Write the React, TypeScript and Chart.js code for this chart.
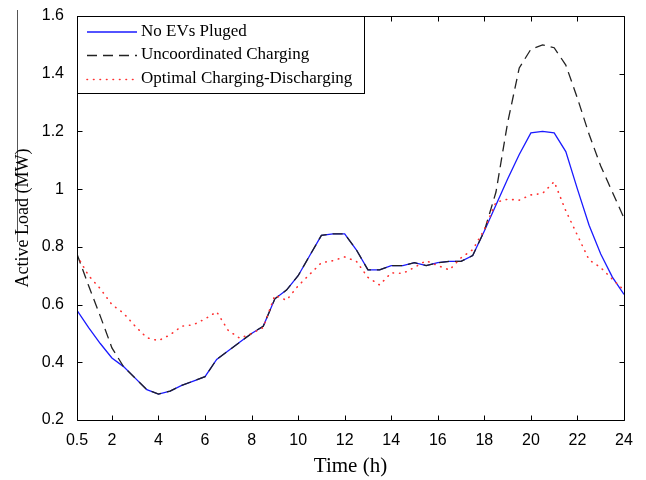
import React, { useEffect, useRef } from 'react';
import { Chart, registerables } from 'chart.js';

Chart.register(...registerables);

const hours = [
  0.5, 1, 1.5, 2, 2.5, 3, 3.5, 4, 4.5, 5, 5.5, 6, 6.5, 7, 7.5, 8, 8.5, 9, 9.5, 10, 10.5, 11, 11.5, 12,
  12.5, 13, 13.5, 14, 14.5, 15, 15.5, 16, 16.5, 17, 17.5, 18, 18.5, 19, 19.5, 20, 20.5, 21, 21.5, 22,
  22.5, 23, 23.5, 24,
];

const noEVs = [
  0.58, 0.52, 0.465, 0.415, 0.385, 0.345, 0.305, 0.29, 0.3, 0.32, 0.335, 0.35, 0.41, 0.44, 0.47, 0.5,
  0.525, 0.62, 0.65, 0.7, 0.77, 0.84, 0.845, 0.845, 0.79, 0.72, 0.72, 0.735, 0.735, 0.745, 0.735, 0.745,
  0.75, 0.75, 0.77, 0.855, 0.945, 1.035, 1.12, 1.195, 1.2, 1.195, 1.13, 1.0, 0.875, 0.775, 0.695, 0.635,
];

const uncoordinated = [
  0.775, 0.665, 0.56, 0.45, 0.385, 0.345, 0.305, 0.29, 0.3, 0.32, 0.335, 0.35, 0.41, 0.44, 0.47, 0.5,
  0.525, 0.62, 0.65, 0.7, 0.77, 0.84, 0.845, 0.845, 0.79, 0.72, 0.72, 0.735, 0.735, 0.745, 0.735, 0.745,
  0.75, 0.75, 0.77, 0.855, 0.99, 1.23, 1.42, 1.485, 1.5, 1.49, 1.43, 1.315, 1.19, 1.08, 0.99, 0.9,
];

const optimal = [
  0.77, 0.7, 0.655, 0.6, 0.57, 0.525, 0.485, 0.475, 0.495, 0.525, 0.53, 0.55, 0.575, 0.51, 0.483, 0.5,
  0.52, 0.632, 0.615, 0.665, 0.705, 0.745, 0.752, 0.765, 0.75, 0.694, 0.668, 0.71, 0.708, 0.729, 0.752,
  0.735, 0.72, 0.762, 0.79, 0.86, 0.955, 0.965, 0.962, 0.98, 0.985, 1.026, 0.925, 0.84, 0.755, 0.728,
  0.688, 0.65,
];

const seriesNames = ['No EVs Pluged', 'Uncoordinated Charging', 'Optimal Charging-Discharging'];
const xTickValues = [0.5, 2, 4, 6, 8, 10, 12, 14, 16, 18, 20, 22, 24];
const xTitle = 'Time (h)';
const yTitle = 'Active Load (MW)';

const toPoints = (ys: number[]) => ys.map((y, i) => ({ x: hours[i], y }));

const framePlugin = {
  id: 'frame',
  beforeDraw(chart: any) {
    const ctx = chart.ctx;
    ctx.save();
    ctx.strokeStyle = '#555';
    ctx.lineWidth = 1;
    ctx.beginPath();
    ctx.moveTo(17.5, 10);
    ctx.lineTo(17.5, 242);
    ctx.stroke();
    ctx.restore();
  },
  afterDatasetsDraw(chart: any) {
    const { ctx, chartArea } = chart;
    const { left, right, top, bottom } = chartArea;
    const xs = chart.scales.x;
    const ys = chart.scales.y;
    ctx.save();
    ctx.strokeStyle = '#000';
    ctx.lineWidth = 1;
    const L = Math.round(left) + 0.5;
    const R = Math.round(right) + 0.5;
    const T = Math.round(top) + 0.5;
    const B = Math.round(bottom) + 0.5;
    ctx.beginPath();
    ctx.rect(L, T, R - L, B - T);
    ctx.stroke();
    const tl = 5;
    ctx.beginPath();
    xs.ticks.forEach((t: any) => {
      const px = Math.round(xs.getPixelForValue(t.value)) + 0.5;
      ctx.moveTo(px, B);
      ctx.lineTo(px, B - tl);
      ctx.moveTo(px, T);
      ctx.lineTo(px, T + tl);
    });
    ys.ticks.forEach((t: any) => {
      const py = Math.round(ys.getPixelForValue(t.value)) + 0.5;
      ctx.moveTo(L, py);
      ctx.lineTo(L + tl, py);
      ctx.moveTo(R, py);
      ctx.lineTo(R - tl, py);
    });
    ctx.stroke();

    // legend box
    const bx = L;
    const by = T;
    const bw = 287;
    const bh = 77;
    ctx.fillStyle = '#fff';
    ctx.fillRect(bx, by, bw, bh);
    ctx.strokeRect(bx, by, bw, bh);
    const rows = [31.5, 55, 79];
    ctx.font = '17px "Liberation Serif", "Times New Roman", serif';
    ctx.textBaseline = 'middle';
    ctx.textAlign = 'left';
    chart.data.datasets.forEach((ds: any, i: number) => {
      const y = rows[i] + 0.5;
      ctx.save();
      ctx.strokeStyle = ds.borderColor;
      ctx.lineWidth = ds.borderWidth;
      ctx.setLineDash(ds.borderDash || []);
      ctx.lineCap = ds.borderCapStyle || 'butt';
      ctx.beginPath();
      ctx.moveTo(87, y);
      ctx.lineTo(137, y);
      ctx.stroke();
      ctx.restore();
      ctx.fillStyle = '#000';
      ctx.fillText(ds.label, 141, rows[i]);
    });
    ctx.restore();
  },
};

export default function App() {
  const ref = useRef<HTMLCanvasElement>(null);
  useEffect(() => {
    const chart = new Chart(ref.current as HTMLCanvasElement, {
      type: 'line',
      data: {
        datasets: [
          {
            label: seriesNames[0],
            data: toPoints(noEVs),
            borderColor: '#1a1aff',
            borderWidth: 1.3,
            pointRadius: 0,
            tension: 0,
            order: 3,
          },
          {
            label: seriesNames[1],
            data: toPoints(uncoordinated),
            borderColor: '#222',
            borderWidth: 1.3,
            borderDash: [10, 6],
            pointRadius: 0,
            tension: 0,
            order: 2,
          },
          {
            label: seriesNames[2],
            data: toPoints(optimal),
            borderColor: '#ff3030',
            borderWidth: 1.6,
            borderDash: [0.5, 6],
            borderCapStyle: 'round',
            pointRadius: 0,
            tension: 0,
            order: 1,
          },
        ] as any,
      },
      options: {
        animation: false,
        responsive: false,
        devicePixelRatio: 1,
        layout: { padding: { top: 16, right: 22, left: 0, bottom: 0 } },
        plugins: { legend: { display: false }, tooltip: { enabled: false } },
        scales: {
          x: {
            type: 'linear',
            min: 0.5,
            max: 24,
            afterBuildTicks: (s: any) => {
              s.ticks = xTickValues.map((v) => ({ value: v }));
            },
            afterFit: (s: any) => {
              s.height = 60;
            },
            grid: { display: false },
            border: { display: false },
            ticks: {
              autoSkip: false,
              maxRotation: 0,
              padding: 3,
              color: '#000',
              font: { family: '"Liberation Sans", Arial, sans-serif', size: 16 },
              callback: (v: any) => String(v),
            },
            title: {
              display: true,
              text: xTitle,
              color: '#000',
              font: { family: '"Liberation Serif", "Times New Roman", serif', size: 21 },
              padding: { top: 0, bottom: 1 },
            },
          },
          y: {
            type: 'linear',
            min: 0.2,
            max: 1.6,
            afterFit: (s: any) => {
              s.width = 77;
            },
            grid: { display: false },
            border: { display: false },
            ticks: {
              stepSize: 0.2,
              padding: 5,
              color: '#000',
              font: { family: '"Liberation Sans", Arial, sans-serif', size: 16 },
              callback: (v: any) => String(Math.round(Number(v) * 10) / 10),
            },
            title: {
              display: true,
              text: yTitle,
              color: '#000',
              font: { family: '"Liberation Serif", "Times New Roman", serif', size: 18 },
              padding: { top: 12, bottom: 0 },
            },
          },
        },
      } as any,
      plugins: [framePlugin],
    });
    return () => chart.destroy();
  }, []);
  return (
    <div style={{ position: 'fixed', left: 0, top: 0, width: 646, height: 480, background: '#fff' }}>
      <canvas ref={ref} width={646} height={480} style={{ display: 'block' }} />
    </div>
  );
}
